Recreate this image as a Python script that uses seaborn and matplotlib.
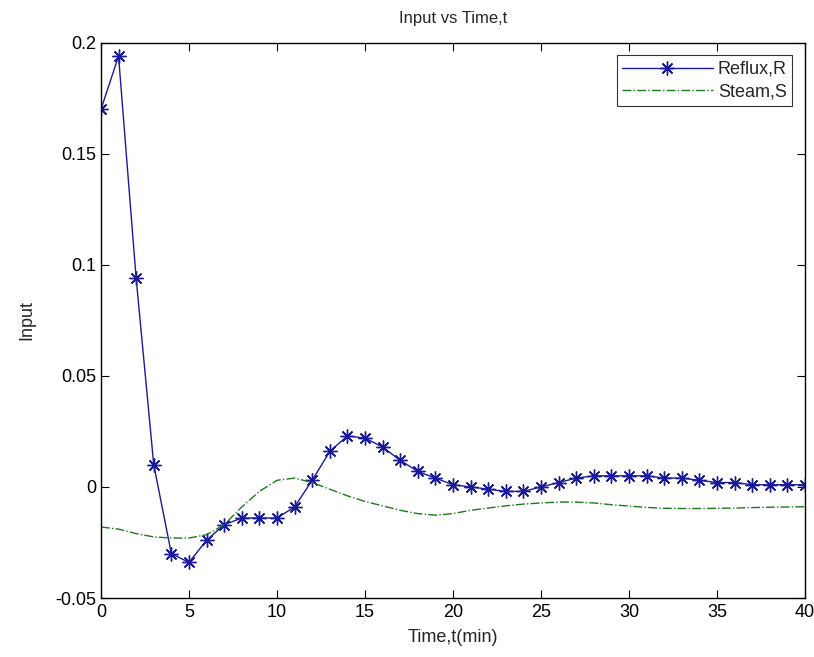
import numpy as np
import pandas as pd
import matplotlib
matplotlib.use("Agg")
import matplotlib.pyplot as plt
import seaborn as sns

# Time grid (min)
time = list(range(0, 41))

# Reflux input R
reflux = [0.170, 0.194, 0.094, 0.010, -0.030, -0.034, -0.024, -0.017, -0.014, -0.014,
          -0.014, -0.009, 0.003, 0.016, 0.023, 0.022, 0.018, 0.012, 0.007, 0.004,
          0.001, 0.000, -0.001, -0.002, -0.002, 0.000, 0.002, 0.004, 0.005, 0.005,
          0.005, 0.005, 0.004, 0.004, 0.003, 0.002, 0.002, 0.001, 0.001, 0.001, 0.001]

# Steam input S
steam = [-0.018, -0.019, -0.021, -0.0225, -0.023, -0.023, -0.0215, -0.017, -0.009, -0.002,
         0.003, 0.004, 0.002, -0.001, -0.004, -0.0065, -0.0085, -0.0105, -0.012, -0.0127,
         -0.012, -0.0105, -0.0095, -0.0085, -0.0077, -0.0072, -0.0068, -0.0068, -0.0072, -0.008,
         -0.0086, -0.0092, -0.0096, -0.0097, -0.0097, -0.0096, -0.0095, -0.0093, -0.0091, -0.009,
         -0.0089]

xticks = [0, 5, 10, 15, 20, 25, 30, 35, 40]
yticks = [-0.05, 0, 0.05, 0.1, 0.15, 0.2]
ytick_labels = ["-0.05", "0", "0.05", "0.1", "0.15", "0.2"]

df = pd.DataFrame({"t": time, "Reflux,R": reflux, "Steam,S": steam})

sns.set_theme(style="white")
plt.rcParams["font.family"] = ["Liberation Sans Narrow", "Liberation Sans", "DejaVu Sans"]
plt.rcParams["xtick.direction"] = "in"
plt.rcParams["ytick.direction"] = "in"

fig = plt.figure(figsize=(8.14, 6.57), dpi=100)
ax = fig.add_axes([0.124, 0.0898, 0.865, 0.845])

navy = "#1a1a9c"
sns.lineplot(data=df, x="t", y="Reflux,R", ax=ax, color=navy, lw=1.0,
             marker=(8, 2, 0), markersize=10, markeredgewidth=1.0,
             markeredgecolor=navy, label="Reflux,R")
sns.lineplot(data=df, x="t", y="Steam,S", ax=ax, color="#1f7a1f", lw=1.0,
             linestyle="-.", label="Steam,S")

ax.set_xlim(0, 40)
ax.set_ylim(-0.05, 0.2)
ax.set_xticks(xticks)
ax.set_xticklabels([str(v) for v in xticks])
ax.set_yticks(yticks)
ax.set_yticklabels(ytick_labels)
ax.tick_params(axis="both", labelsize=13, length=6, width=0.8, colors="black",
               top=True, right=True, bottom=True, left=True)
ax.tick_params(axis="x", pad=4)
for s in ax.spines.values():
    s.set_color("black")
    s.set_linewidth(1.0)

ax.set_title("Input vs Time,t", fontsize=12, pad=14)
ax.set_xlabel("Time,t(min)", fontsize=13, labelpad=6)
ax.set_ylabel("Input", fontsize=13, labelpad=14)

leg = ax.legend(loc="upper right", fontsize=13, frameon=True, fancybox=False,
                handlelength=5.0, borderaxespad=0.7, borderpad=0.3,
                labelspacing=0.3, handletextpad=0.3)
leg.get_frame().set_edgecolor("black")
leg.get_frame().set_linewidth(0.8)

fig.savefig("out.png", dpi=100)
